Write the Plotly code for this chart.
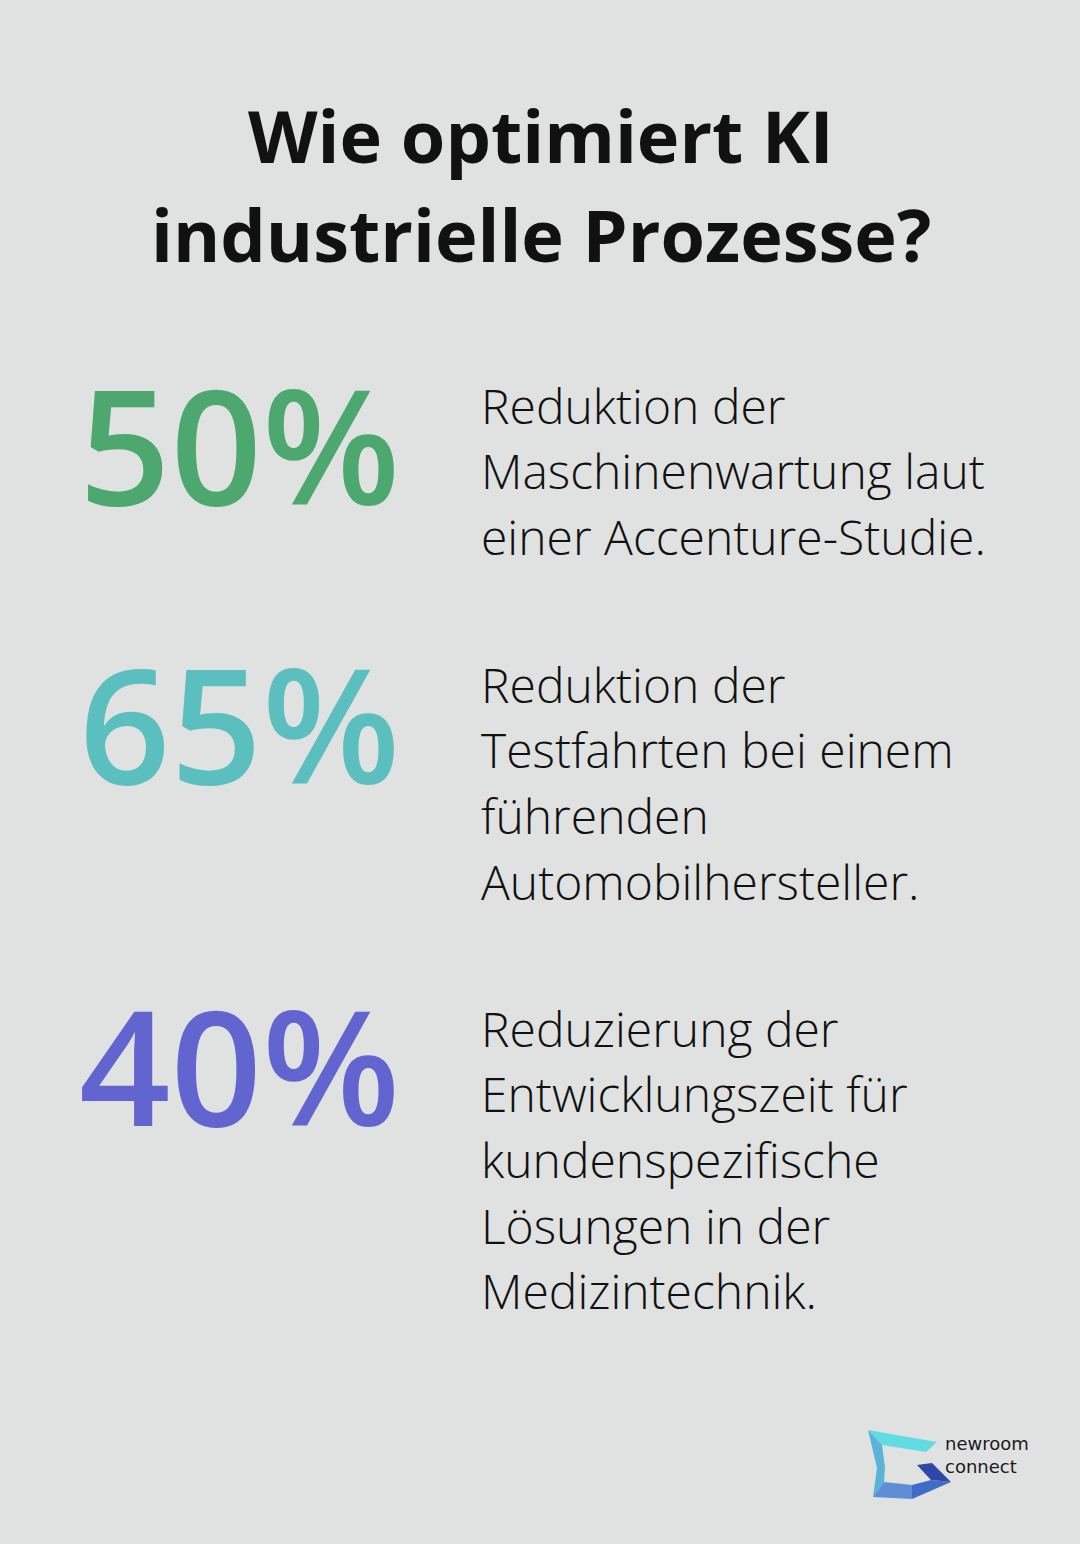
import plotly.graph_objects as go

# ---- data ----
title_lines = ["Wie optimiert KI", "industrielle Prozesse?"]
stat_values = ["50%", "65%", "40%"]
stat_colors = ["#4CA86E", "#5BBFBF", "#6264CF"]
stat_descriptions = [
    ["Reduktion der", "Maschinenwartung laut", "einer Accenture-Studie."],
    ["Reduktion der", "Testfahrten bei einem", "führenden", "Automobilhersteller."],
    ["Reduzierung der", "Entwicklungszeit für", "kundenspezifische", "Lösungen in der", "Medizintechnik."],
]
brand_lines = ["newroom", "connect"]

# ---- layout constants ----
W, H = 1080, 1544
BG = "#E0E2E1"
FONT = "Open Sans"
title_y = [135, 234]
stat_y = [443, 722, 1064]
desc_first_y = [405, 684, 1028]
line_gap = 65.7

fig = go.Figure()
annotations = []

for txt, y in zip(title_lines, title_y):
    annotations.append(dict(x=541, y=y, text=txt, showarrow=False, xanchor="center", yanchor="middle",
                            font=dict(family=FONT, size=72, color="#111111", weight=700)))

for val, col, y in zip(stat_values, stat_colors, stat_y):
    annotations.append(dict(x=77, y=y, text=val, showarrow=False, xanchor="left", yanchor="middle",
                            font=dict(family=FONT, size=160, color=col, weight=600)))

for lines, y0 in zip(stat_descriptions, desc_first_y):
    for i, ln in enumerate(lines):
        annotations.append(dict(x=479, y=y0 + i * line_gap, text=ln, showarrow=False, xanchor="left",
                                yanchor="middle",
                                font=dict(family=FONT, size=48, color="#111111", weight=300)))

annotations.append(dict(x=943, y=1455, text="<br>".join(brand_lines), showarrow=False, xanchor="left",
                        yanchor="middle", align="left",
                        font=dict(family="DejaVu Sans", size=18, color="#1a1a1a", weight=400)))

# logo polygons
logo = [
    ("#62DCE3", [(868, 1430), (937, 1442), (926, 1452), (882, 1445)]),
    ("#5AB4DA", [(868, 1430), (882, 1445), (885, 1468), (884, 1482), (873, 1497), (877, 1468)]),
    ("#5E8FD6", [(884, 1482), (912, 1485), (912, 1499), (873, 1497)]),
    ("#3F6CC8", [(912, 1485), (931, 1480), (951, 1482), (912, 1499)]),
    ("#2E48A8", [(917, 1465), (932, 1463), (951, 1482), (931, 1480)]),
]
shapes = []
for col, pts in logo:
    path = "M " + " L ".join(f"{x},{y}" for x, y in pts) + " Z"
    shapes.append(dict(type="path", path=path, xref="x", yref="y", fillcolor=col, line=dict(width=0)))

fig.update_layout(
    width=W, height=H, margin=dict(l=0, r=0, t=0, b=0),
    paper_bgcolor=BG, plot_bgcolor=BG,
    xaxis=dict(range=[0, W], visible=False, fixedrange=True),
    yaxis=dict(range=[H, 0], visible=False, fixedrange=True),
    annotations=annotations, shapes=shapes, showlegend=False,
)
fig.write_html("out.html", config={"displayModeBar": False},
               post_script="document.body.style.margin='0';document.body.style.overflow='hidden';")
